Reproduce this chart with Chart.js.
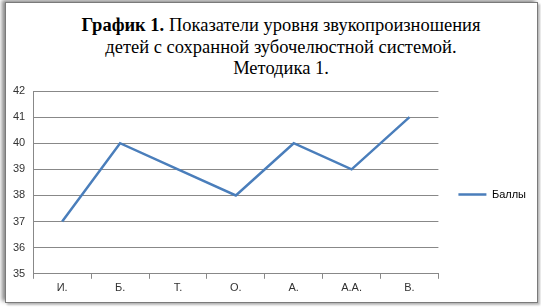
<!DOCTYPE html>
<html>
<head>
<meta charset="utf-8">
<script src="https://cdn.jsdelivr.net/npm/chart.js@4"></script>
<style>
  html, body { margin: 0; padding: 0; background: #fff; }
  #frame {
    position: absolute; left: 5px; top: 2px; width: 531px; height: 299px;
    border: 1px solid #7a7a7a; background: #fff;
    box-shadow: -3px -2px 4px #8a8a8a, 2px 2px 2px #bbb;
  }
  #title {
    position: absolute; left: 0; top: 15px; width: 562px; text-align: center;
    font-family: "Liberation Serif", "Times New Roman", serif; font-size: 18.5px;
    line-height: 21.5px; color: #000;
  }
  #title b { font-weight: bold; }
  canvas { position: absolute; left: 0; top: 0; }
</style>
</head>
<body>
<div id="frame"></div>
<div id="title"><b>График 1.</b> Показатели уровня звукопроизношения<br>детей с сохранной зубочелюстной системой.<br>Методика 1.</div>
<canvas id="chart" width="541" height="307"></canvas>
<script>
// data
const categories = ['И.', 'Б.', 'Т.', 'О.', 'А.', 'А.А.', 'В.'];
const scores = [37, 40, 39, 38, 40, 39, 41];
const seriesName = 'Баллы';
const yMin = 35, yMax = 42;

const tickFont = { family: 'Liberation Sans, Arial, sans-serif', size: 11 };

new Chart(document.getElementById('chart'), {
  type: 'line',
  data: {
    labels: categories,
    datasets: [{
      label: seriesName,
      data: scores,
      borderColor: '#4a7ebb',
      backgroundColor: '#4a7ebb',
      borderWidth: 2.5,
      pointRadius: 0,
      tension: 0,
      fill: false
    }]
  },
  options: {
    responsive: false,
    animation: false,
    layout: { padding: { top: 91, left: 5, right: 5, bottom: 9 } },
    plugins: {
      title: { display: false },
      tooltip: { enabled: false },
      legend: {
        position: 'right',
        labels: {
          boxWidth: 28, boxHeight: 0, padding: 20,
          color: '#333', font: tickFont,
          generateLabels: chart => chart.data.datasets.map((ds, i) => ({
            text: ds.label, strokeStyle: ds.borderColor, fillStyle: ds.borderColor,
            lineWidth: 2.5, datasetIndex: i
          }))
        }
      }
    },
    scales: {
      x: {
        offset: true,
        grid: { offset: true, drawOnChartArea: false, drawTicks: true, tickLength: 5, color: '#888' },
        border: { color: '#888' },
        ticks: { color: '#333', font: tickFont, padding: 3, maxRotation: 0 }
      },
      y: {
        min: yMin, max: yMax,
        ticks: { stepSize: 1, color: '#333', font: tickFont, padding: 8 },
        grid: { color: '#888', drawTicks: false },
        border: { color: '#888' }
      }
    }
  }
});
</script>
</body>
</html>
